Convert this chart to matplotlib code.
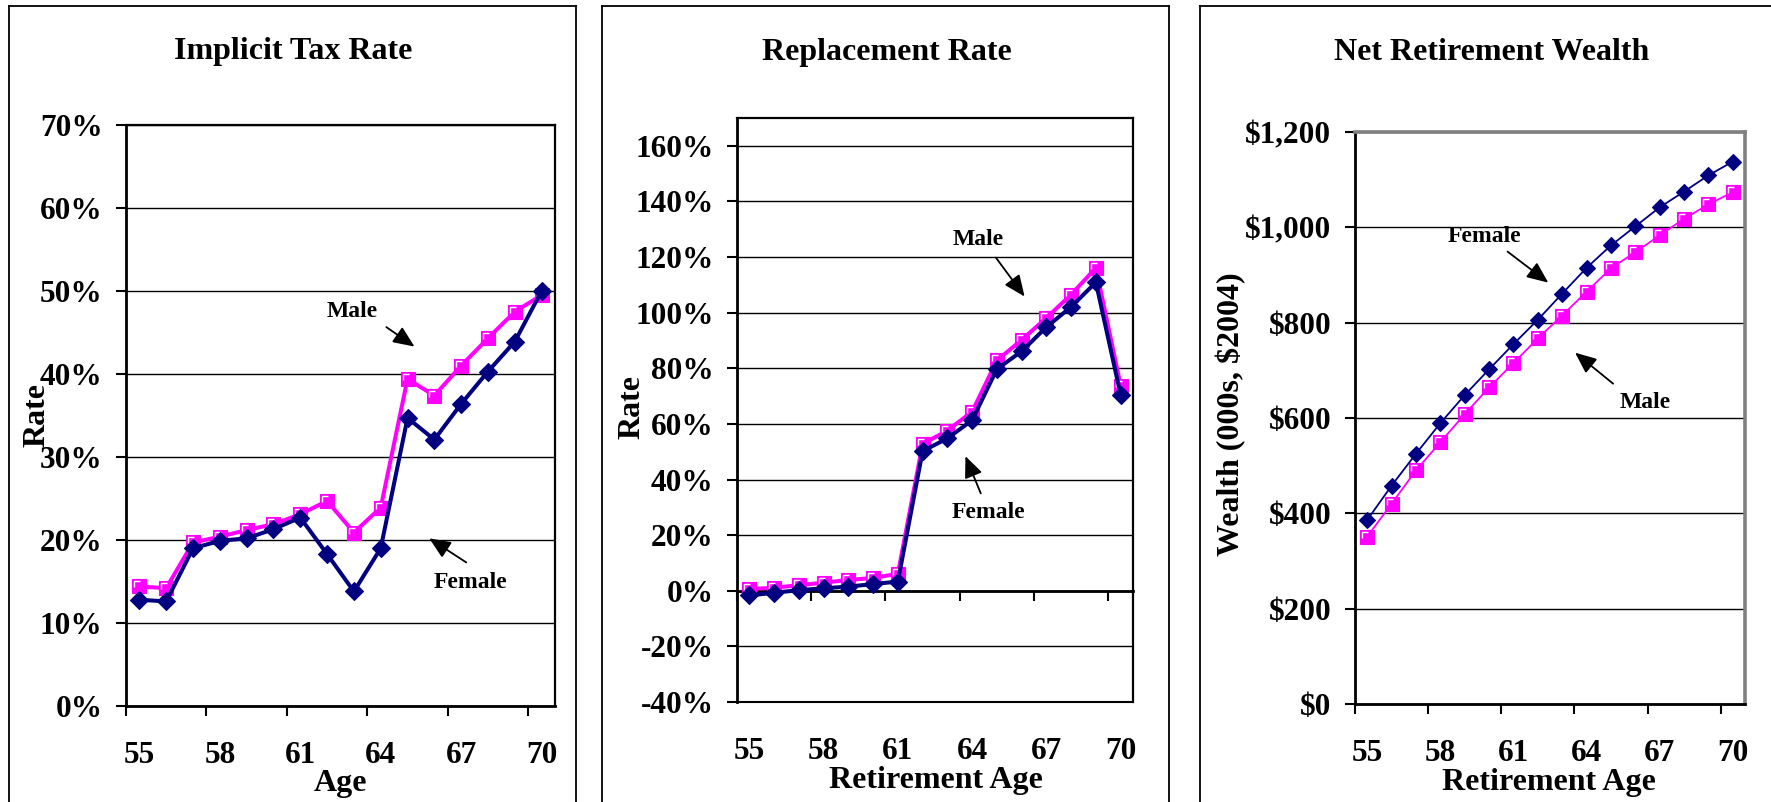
import numpy as np
import matplotlib
matplotlib.use("Agg")
import matplotlib.pyplot as plt
from matplotlib.path import Path
from matplotlib.lines import Line2D
from matplotlib.ticker import FixedLocator, FuncFormatter

plt.rcParams['font.family'] = ['Liberation Serif', 'DejaVu Serif']
plt.rcParams['font.weight'] = 'bold'

# ---------------- data ----------------
ages = list(range(55, 71))
label_ages = [55, 58, 61, 64, 67, 70]

tax_male = [14.4, 14.2, 19.7, 20.4, 21.2, 21.9, 23.1, 24.7, 20.9, 23.9,
            39.4, 37.4, 41.0, 44.3, 47.5, 49.5]
tax_female = [12.8, 12.6, 19.0, 19.9, 20.2, 21.3, 22.7, 18.3, 13.8, 19.0,
              34.7, 32.1, 36.4, 40.3, 43.9, 50.0]

repl_male = [0.6, 1.1, 2.0, 2.9, 3.9, 4.6, 6.1, 52.8, 57.6, 64.4,
             82.8, 90.2, 98.1, 106.5, 116.1, 73.8]
repl_female = [-1.7, -0.7, 0.2, 0.9, 1.5, 2.4, 3.3, 50.2, 54.8, 61.3,
               79.7, 86.1, 94.8, 102.1, 110.9, 70.5]

wealth_female = [386, 458, 525, 589, 648, 702, 755, 806, 861, 915,
                 962, 1002, 1042, 1075, 1109, 1138]
wealth_male = [351, 420, 490, 549, 608, 664, 715, 767, 815, 865,
               914, 948, 983, 1018, 1048, 1074]

titles = ["Implicit Tax Rate", "Replacement Rate", "Net Retirement Wealth"]
xlabels = ["Age", "Retirement Age", "Retirement Age"]
ylabels = ["Rate", "Rate", "Wealth (000s, $2004)"]

NAVY = "#000080"
MAGENTA = "#FF00FF"
TICK_FS = 22.5
TITLE_FS = 23
LABEL_FS = 23
ANN_FS = 17

W, H = 1771, 802
fig = plt.figure(figsize=(W / 100, H / 100), dpi=100)


def fx(px):
    return px / W


def fy(py):
    return 1 - py / H


# pixel boxes of the three plot areas: (left, right, top, bottom)
boxes = [(126, 555, 125, 706), (737, 1133, 118, 702), (1355, 1745, 132, 704)]
title_centres = [(293, 52), (887, 52), (1492, 52)]

# panel frames (open at the bottom)
for left, right in [(9, 576), (602, 1169), (1200, None)]:
    kw = dict(color="black", lw=1.3, transform=fig.transFigure)
    fig.add_artist(Line2D([fx(left), fx(left)], [0, fy(6)], **kw))
    if right is not None:
        fig.add_artist(Line2D([fx(left), fx(right)], [fy(6), fy(6)], **kw))
        fig.add_artist(Line2D([fx(right), fx(right)], [fy(6), 0], **kw))
    else:
        fig.add_artist(Line2D([fx(left), 1], [fy(6), fy(6)], **kw))

axes = []
for (l, r, t, b) in boxes:
    axes.append(fig.add_axes([fx(l), fy(b), fx(r) - fx(l), fy(t) - fy(b)]))
ax1, ax2, ax3 = axes

x = np.arange(len(ages))
label_pos = [ages.index(a) for a in label_ages]
boundaries = [p - 0.5 for p in label_pos]

# white bevel "L" inside square markers
L_path = Path([(-1, -1), (1, 1), (-0.72, -0.2), (-0.72, 0.72), (0.2, 0.72)],
              [Path.MOVETO, Path.MOVETO, Path.MOVETO, Path.LINETO, Path.LINETO])

ARROW = dict(arrowstyle="-|>,head_length=0.65,head_width=0.28",
             color="black", lw=1.3, mutation_scale=20, shrinkA=0, shrinkB=0)


def draw_series(ax, male, female, lw, sq_ms, d_ms):
    ax.plot(x, male, color=MAGENTA, lw=lw, marker="s", ms=sq_ms,
            mfc=MAGENTA, mec=MAGENTA, mew=0.8, zorder=3)
    ax.plot(x, male, ls="none", marker=L_path, ms=sq_ms, mfc="none",
            mec="white", mew=1.0, zorder=3.5)
    ax.plot(x, female, color=NAVY, lw=lw, marker="D", ms=d_ms,
            mfc=NAVY, mec=NAVY, mew=0.8, zorder=4)


def style_axes(ax, box, tcentre, ylim, yticks, fmt, border_color, title,
               xlab, ylab, xlab_xy, ylab_xy, bottom_axis=True):
    l, r, t, b = box
    ax.set_xlim(-0.5, len(ages) - 0.5)
    ax.set_ylim(*ylim)
    ax.yaxis.set_major_locator(FixedLocator(yticks))
    ax.yaxis.set_major_formatter(FuncFormatter(fmt))
    ax.grid(axis="y", color="black", lw=1.0, zorder=1)
    ax.set_axisbelow(True)
    # category axis: tick marks at boundaries, labels at category centres
    ax.set_xticks(boundaries)
    ax.set_xticklabels([])
    ax.set_xticks(label_pos, minor=True)
    ax.set_xticklabels([str(a) for a in label_ages], minor=True)
    ax.tick_params(axis="x", which="minor", length=0, pad=25,
                   labelsize=TICK_FS)
    if bottom_axis:
        ax.tick_params(axis="x", which="major", direction="out", length=7,
                       width=1.5)
    else:
        ax.tick_params(axis="x", which="major", length=0)
    ax.tick_params(axis="y", direction="out", length=7, width=1.5,
                   pad=10, labelsize=TICK_FS)
    for s in ["left", "bottom"]:
        ax.spines[s].set_color("black")
        ax.spines[s].set_linewidth(2.0)
    for s in ["top", "right"]:
        ax.spines[s].set_color(border_color)
        ax.spines[s].set_linewidth(1.6 if border_color == "black" else 2.6)
    ax.set_title(title, fontsize=TITLE_FS, fontweight="bold",
                 y=(b - tcentre[1]) / (b - t), va="center", pad=0)
    ax.title.set_x((tcentre[0] - l) / (r - l))
    ax.set_xlabel(xlab, fontsize=LABEL_FS, fontweight="bold", va="center")
    ax.xaxis.set_label_coords(*xlab_xy)
    ax.set_ylabel(ylab, fontsize=LABEL_FS, fontweight="bold", va="center")
    ax.yaxis.set_label_coords(*ylab_xy)
    for tl in ax.get_xticklabels(minor=True) + ax.get_yticklabels():
        tl.set_fontweight("bold")


def pct(v, _):
    return f"{v:.0f}%"


def dollars(v, _):
    return f"${v:,.0f}"


def note(ax, text, txy, tail, head):
    ax.text(txy[0], txy[1], text, fontsize=ANN_FS, fontweight="bold",
            ha="center", va="center")
    ax.annotate("", xy=head, xytext=tail, arrowprops=ARROW)


# ---- panel 1: implicit tax rate ----
draw_series(ax1, tax_male, tax_female, 2.9, 10.5, 8.8)
style_axes(ax1, boxes[0], title_centres[0], (0, 70), list(range(0, 71, 10)),
           pct, "black", titles[0], xlabels[0], ylabels[0],
           (0.5, -0.133), (-0.208, 0.501))
note(ax1, "Male", (7.93, 47.5), (9.21, 45.65), (10.26, 43.3))
note(ax1, "Female", (12.36, 14.9), (12.19, 17.3), (10.81, 20.2))

# ---- panel 2: replacement rate ----
draw_series(ax2, repl_male, repl_female, 2.9, 10.5, 8.8)
ylim2 = (-40, 170)
style_axes(ax2, boxes[1], title_centres[1], ylim2, list(range(-40, 161, 20)),
           pct, "black", titles[1], xlabels[1], ylabels[1],
           (0.503, -0.134), (-0.265, 0.505), bottom_axis=False)
ax2.spines["bottom"].set_linewidth(1.5)
zero_frac = (0 - ylim2[0]) / (ylim2[1] - ylim2[0])
sec = ax2.secondary_xaxis(zero_frac)
sec.set_xticks(boundaries)
sec.tick_params(axis="x", direction="out", length=7, width=1.5,
                labelbottom=False, labeltop=False)
sec.spines["bottom"].set_linewidth(2.0)
sec.spines["bottom"].set_color("black")
note(ax2, "Male", (9.24, 126.4), (9.96, 119.8), (11.12, 105.8))
note(ax2, "Female", (9.65, 28.2), (9.35, 35.0), (8.73, 48.4))

# ---- panel 3: net retirement wealth ----
draw_series(ax3, wealth_male, wealth_female, 1.3, 10.3, 8.5)
style_axes(ax3, boxes[2], title_centres[2], (0, 1200),
           list(range(0, 1201, 200)), dollars, "#808080",
           titles[2], xlabels[2], ylabels[2],
           (0.498, -0.1375), (-0.318, 0.507))
note(ax3, "Female", (4.80, 981), (5.76, 949), (7.43, 884))
note(ax3, "Male", (11.42, 632), (10.09, 672), (8.53, 737))

fig.savefig("out.png", dpi=100)
